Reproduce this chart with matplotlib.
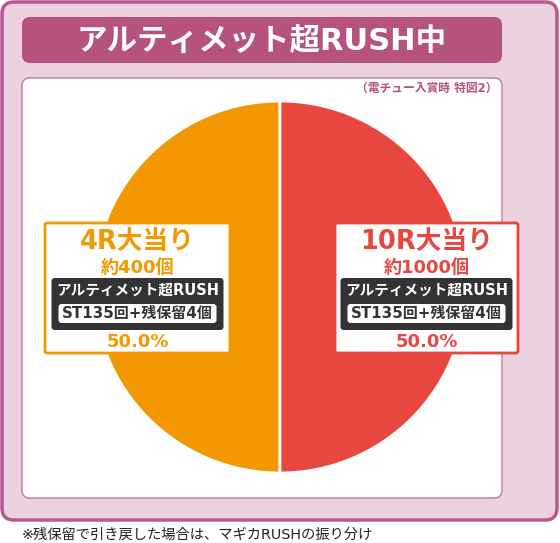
import matplotlib
matplotlib.use("Agg")
import matplotlib.pyplot as plt
from matplotlib.patches import FancyBboxPatch

plt.rcParams['font.family'] = ['DejaVu Sans', 'Noto Sans CJK JP']

title = "アルティメット超RUSH中"
note_top = "（電チュー入賞時 特図2）"
footnote = "※残保留で引き戻した場合は、マギカRUSHの振り分け"

labels = ["4R大当り", "10R大当り"]
counts = ["約400個", "約1000個"]
rush = ["アルティメット超RUSH", "アルティメット超RUSH"]
st = ["ST135回+残保留4個", "ST135回+残保留4個"]
shares = [50.0, 50.0]
colors = ["#f39800", "#e8473f"]

W, H = 560, 543
fig = plt.figure(figsize=(W / 100, H / 100), dpi=100)
ax = fig.add_axes([0, 0, 1, 1])


def Y(y):
    return H - y


def rbox(x0, y0, x1, y1, r, fc, ec='none', lw=0, z=1):
    p = FancyBboxPatch((x0, Y(y1)), x1 - x0, y1 - y0,
                       boxstyle=f"round,pad=0,rounding_size={r}",
                       fc=fc, ec=ec, lw=lw, zorder=z)
    ax.add_patch(p)


# pie first (it resets some axes settings)
ax.pie(shares, colors=colors, startangle=90, counterclock=True,
       center=(280, Y(287)), radius=186,
       wedgeprops=dict(edgecolor='white', linewidth=2, zorder=3), frame=True)
ax.set_xlim(0, W)
ax.set_ylim(0, H)
ax.set_aspect('equal')
ax.axis('off')

# background frames
rbox(2, 2, 557, 520, 12, "#ecd1e0", "#b9588a", 2.5)
rbox(22, 17, 502, 63, 8, "#b5527f")
ax.text(262, Y(41), title, ha='center', va='center', color='white',
        fontsize=22, fontweight='bold', zorder=3)
rbox(22, 78, 502, 498, 8, "white", "#c07a9c", 1, z=2)
ax.text(498, Y(88), note_top, ha='right', va='center', color="#b5527f",
        fontsize=8.5, fontweight='bold', zorder=3)

# label boxes
box_x = [(45, 230), (335, 518)]
for i in range(2):
    x0, x1 = box_x[i]
    cx = (x0 + x1) / 2
    rbox(x0, 223, x1, 353, 2, "white", colors[i], 2, z=4)
    ax.text(cx, Y(243), labels[i], ha='center', va='center', color=colors[i],
            fontsize=18.5, fontweight='bold', zorder=5)
    ax.text(cx, Y(268), counts[i], ha='center', va='center', color=colors[i],
            fontsize=13, fontweight='bold', zorder=5)
    rbox(cx - 86, 278, cx + 86, 330, 3, "#333333", z=5)
    ax.text(cx, Y(290), rush[i], ha='center', va='center', color='white',
            fontsize=10.5, fontweight='bold', zorder=6)
    rbox(cx - 79, 304, cx + 79, 323, 3, "white", z=6)
    ax.text(cx, Y(313.5), st[i], ha='center', va='center', color='#333333',
            fontsize=10.8, fontweight='bold', zorder=7)
    ax.text(cx, Y(342), f"{shares[i]:.1f}%", ha='center', va='center',
            color=colors[i], fontsize=13, fontweight='bold', zorder=5)

ax.text(22, Y(535), footnote, ha='left', va='center', color='#222222',
        fontsize=10.3)

fig.savefig("out.png", dpi=100)
